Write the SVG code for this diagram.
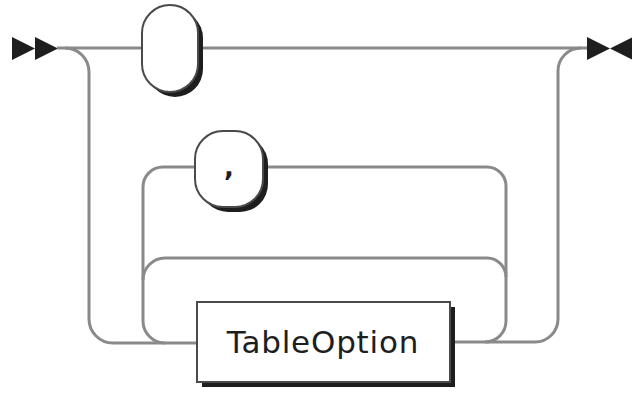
<svg xmlns="http://www.w3.org/2000/svg" width="632" height="394" viewBox="0 0 632 394">
<style>
.line{fill:none;stroke:#8a8a8a;stroke-width:3}
.shadow{fill:#1e1e1e}
.box{fill:#fff;stroke:#4a4a4a;stroke-width:2}
.arrow{fill:#1e1e1e}
.label{font-family:"DejaVu Sans","Liberation Sans",sans-serif;fill:#1e1e1e}
</style>
<rect width="632" height="394" fill="#fff"/>
<g id="connectors">
<polygon class="arrow" points="12,37 35,48.5 12,60"/>
<polygon class="arrow" points="35,37 58,48.5 35,60"/>
<path class="line" d="M57 48 H588"/>
<path class="line" d="M65 48 A24 24 0 0 1 89 72 V319 A24 24 0 0 0 113 343 H197"/>
<path class="line" d="M195 167 H163 A20 20 0 0 0 143 187 V321 A22 22 0 0 0 165 343"/>
<path class="line" d="M487 258 H165 A22 22 0 0 0 143 280"/>
<path class="line" d="M263 167 H487 A19 19 0 0 1 506 186 V321 A21 21 0 0 1 485 342 H450"/>
<path class="line" d="M487 258 A19 19 0 0 1 506 277"/>
<path class="line" d="M485 342 H535 A23 23 0 0 0 558 319 V71 A23 23 0 0 1 581 48"/>
<polygon class="arrow" points="587,37 610,48.5 587,60"/>
<polygon class="arrow" points="633,37 610,48.5 633,60"/>
</g>
<g id="empty">
<rect class="shadow" x="147" y="10" width="56" height="87" rx="28"/>
<rect class="box" x="142" y="5" width="56" height="87" rx="28"/>
</g>
<g id="comma">
<rect class="shadow" x="200" y="136" width="68" height="76" rx="28"/>
<rect class="box" x="195" y="131" width="68" height="76" rx="28"/>
<text class="label" x="229" y="176" font-size="26" font-weight="bold" text-anchor="middle">,</text>
</g>
<g id="tableoption">
<rect class="shadow" x="202" y="307" width="253" height="80"/>
<rect class="box" x="197" y="302" width="253" height="80"/>
<text class="label" x="323" y="353" font-size="31" letter-spacing="0.8" text-anchor="middle">TableOption</text>
</g>
</svg>
